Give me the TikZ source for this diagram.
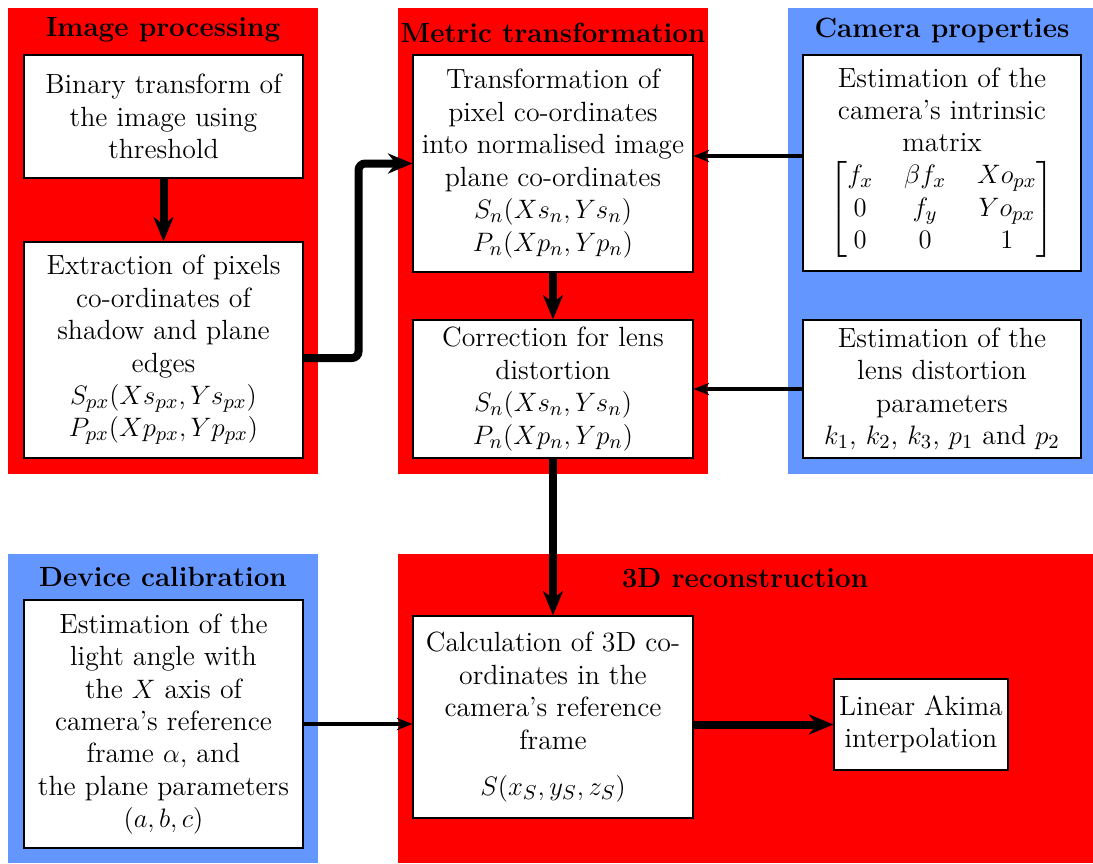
\documentclass[tikz,border=0pt]{standalone}
\usepackage{amsmath}
\usetikzlibrary{arrows.meta}
\definecolor{panelred}{RGB}{255,0,0}
\definecolor{panelblue}{RGB}{100,150,255}
\tikzset{
  box/.style={draw=black, fill=white, line width=0.5pt, align=center, inner sep=2pt,
    font=\fontsize{12.5}{14.6}\selectfont},
  paneltitle/.style={font=\fontsize{12.5}{14.6}\selectfont\bfseries, inner sep=1pt},
  thickarrow/.style={line width=3.6pt, -{Stealth[length=11pt, width=9pt, inset=3.5pt]}},
  medarrow/.style={line width=1.8pt, -{Stealth[length=7pt, width=5.5pt, inset=2pt]}},
}
\begin{document}
\begin{tikzpicture}[x=0.45pt, y=-0.45pt]
\useasboundingbox (0,0) rectangle (1093,863);
% panels
\fill[panelred] (8,8) rectangle (318,474);
\fill[panelred] (398,8) rectangle (708,474);
\fill[panelblue] (788,8) rectangle (1093,474);
\fill[panelblue] (8,554) rectangle (318,863);
\fill[panelred] (398,554) rectangle (1093,863);
% titles
\node[paneltitle] (t1) at (163,30) {Image processing};
\node[paneltitle] (t2) at (553,33) {Metric transformation};
\node[paneltitle] (t3) at (942,30) {Camera properties};
\node[paneltitle] (t4) at (163,577) {Device calibration};
\node[paneltitle] (t5) at (745,578) {3D reconstruction};
% boxes
\node[box, minimum width=125.55pt, minimum height=55.35pt] (b1) at (163.5,116.5)
  {Binary transform of\\the image using\\threshold};
\node[box, minimum width=125.55pt, minimum height=97.2pt] (b2) at (163.5,350)
  {Extraction of pixels\\co-ordinates of\\shadow and plane\\edges\\$S_{px}(Xs_{px},Ys_{px})$\\$P_{px}(Xp_{px},Yp_{px})$};
\node[box, minimum width=126pt, minimum height=97.65pt] (b3) at (553,163.5)
  {Transformation of\\pixel co-ordinates\\into normalised image\\plane co-ordinates\\$S_n(Xs_n,Ys_n)$\\$P_n(Xp_n,Yp_n)$};
\node[box, minimum width=126pt, minimum height=62.1pt] (b4) at (553,389)
  {Correction for lens\\distortion\\$S_n(Xs_n,Ys_n)$\\$P_n(Xp_n,Yp_n)$};
\node[box, minimum width=125.1pt, minimum height=97.2pt, inner sep=0.5pt] (b5) at (942,163)
  {Estimation of the\\camera's intrinsic\\matrix\\[3pt]{\arraycolsep=7pt$\begin{bmatrix} f_x & \beta f_x & Xo_{px}\\ 0 & f_y & Yo_{px}\\ 0 & 0 & 1\end{bmatrix}$}};
\node[box, minimum width=125.1pt, minimum height=62.1pt] (b6) at (942,389)
  {Estimation of the\\lens distortion\\parameters\\$k_1$, $k_2$, $k_3$, $p_1$ and $p_2$};
\node[box, minimum width=125.55pt, minimum height=111.6pt] (b7) at (163.5,724)
  {Estimation of the\\light angle with\\the $X$ axis of\\camera's reference\\frame $\alpha$, and\\the plane parameters\\$(a,b,c)$};
\node[box, minimum width=126pt, minimum height=90.9pt] (b8) at (553,717)
  {Calculation of 3D co-\\ordinates in the\\camera's reference\\frame\\[6pt]$S(x_S,y_S,z_S)$};
\node[box, minimum width=78.3pt, minimum height=40.95pt] (b9) at (921,724.5)
  {Linear Akima\\interpolation};
% connectors
\draw[thickarrow] (b1) -- (b2);
\draw[thickarrow] (b3) -- (b4);
\draw[thickarrow] (b4) -- (b8);
\draw[thickarrow, rounded corners=3pt] ([yshift=-3.6pt]b2.east) -- ++(55,0) |- (b3.west);
\draw[medarrow] ([yshift=3.15pt]b5.west) -- ([yshift=3.15pt]b5.west -| b3.east);
\draw[medarrow] (b6.west) -- (b6.west -| b4.east);
\draw[medarrow] (b7.east) -- (b7.east -| b8.west);
\draw[thickarrow] (b9.west -| b8.east) -- (b9.west);
\end{tikzpicture}
\end{document}
